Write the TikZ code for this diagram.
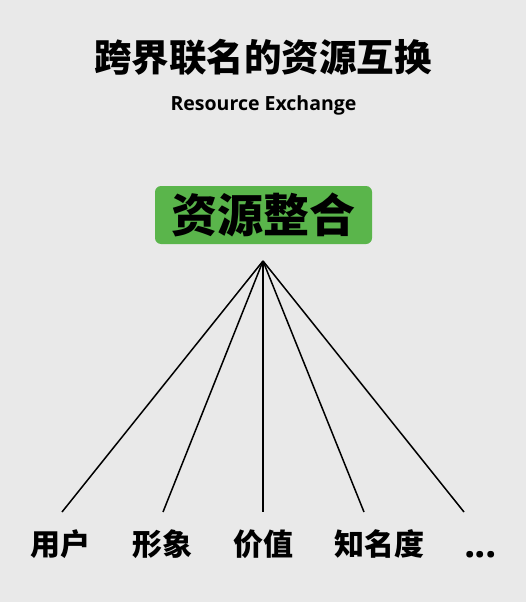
\documentclass[tikz,border=0pt]{standalone}
\usepackage{fontspec}
\newfontfamily\cjk{Noto Sans CJK SC}
\newfontfamily\latin{Open Sans}
\definecolor{bg}{HTML}{E9E9E9}
\definecolor{boxgreen}{HTML}{5AB54B}
\begin{document}
\begin{tikzpicture}[x=1pt,y=-1pt,
  lbl/.style={inner sep=0pt,font=\cjk\bfseries\fontsize{30}{30}\selectfont},
  link/.style={line width=1.5pt,black}]
\fill[bg] (0,0) rectangle (526,602);
\useasboundingbox (0,0) rectangle (526,602);
\node[inner sep=0pt,font=\cjk\bfseries\fontsize{37.5}{38}\selectfont] (title) at (263,57) {跨界联名的资源互换};
\node[inner sep=0pt,anchor=base,font=\latin\bfseries\fontsize{19.5}{20}\selectfont] (sub) at (263.5,110) {Resource Exchange};
\node[fill=boxgreen,rounded corners=6pt,minimum width=217pt,minimum height=58pt,inner sep=0pt,
  font=\cjk\bfseries\fontsize{46}{46}\selectfont] (hub) at (263.5,215) {资源整合};
\coordinate (apex) at (263,261);
\coordinate (e1) at (62,512);
\coordinate (e2) at (163,512);
\coordinate (e3) at (263,512);
\coordinate (e4) at (364,512);
\coordinate (e5) at (464,512);
\foreach \e in {e1,e2,e3,e4,e5} \draw[link] (apex) -- (\e);
\node[lbl] (l1) at (60,544) {用户};
\node[lbl] (l2) at (162,544) {形象};
\node[lbl] (l3) at (263,544) {价值};
\node[lbl] (l4) at (379,544) {知名度};
\node[inner sep=0pt,anchor=base,font=\latin\bfseries\fontsize{40}{40}\selectfont] (l5) at (480.5,557) {.\kern-1pt.\kern-1pt.};
\end{tikzpicture}
\end{document}
